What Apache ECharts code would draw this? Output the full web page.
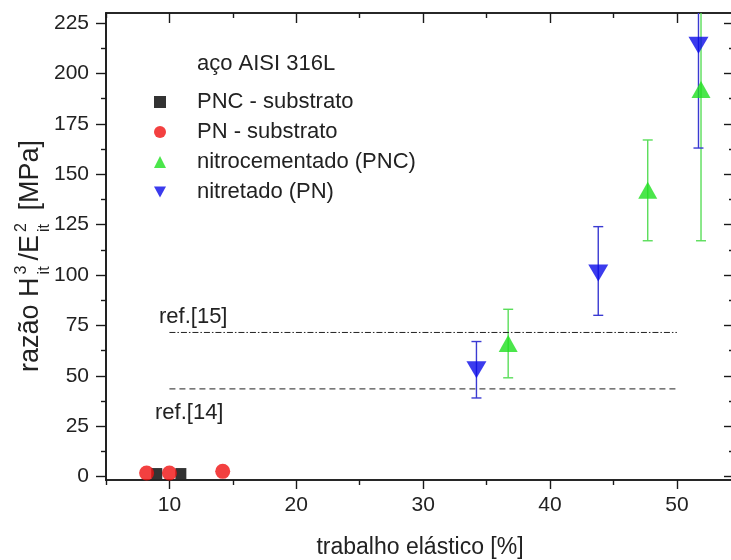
<!DOCTYPE html>
<html>
<head>
<meta charset="utf-8">
<script src="https://cdn.jsdelivr.net/npm/echarts@6/dist/echarts.min.js"></script>
<style>
    html, body { margin: 0; padding: 0; background: #fff; }
    #chart { width: 731px; height: 560px; }
</style>
</head>
<body>
<div id="chart"></div>
<script>
// dados
var pncSubX = [9.0, 10.9];
var pncSubY = [1.5, 1.5];
var pnSubX = [8.2, 10.0, 14.2];
var pnSubY = [1.8, 1.8, 2.6];

var nitrocX = [36.7, 47.7, 51.9];
var nitrocY = [66, 142, 192];
var nitrocLow = [49, 117, 117];
var nitrocHigh = [83, 167, 267];

var nitretX = [34.2, 43.8, 51.7];
var nitretY = [53, 101, 214];
var nitretLow = [39, 80, 163];
var nitretHigh = [67, 124, 265];

var refX = [10, 50];
var ref15 = 71.5;
var ref14 = 43.5;

var xLabels = [10, 20, 30, 40, 50];
var xMinor = [5, 15, 25, 35, 45];
var yLabels = [0, 25, 50, 75, 100, 125, 150, 175, 200, 225];
var yMinor = [12.5, 37.5, 62.5, 87.5, 112.5, 137.5, 162.5, 187.5, 212.5];

var FONT = 'Liberation Sans, Arial, sans-serif';
var AXIS = '#1a1a1a';

function pts(xs, ys) {
    return xs.map(function (x, i) { return [x, ys[i]]; });
}
function errPts(xs, lo, hi) {
    return xs.map(function (x, i) { return [x, lo[i], hi[i]]; });
}

function errorBar(color) {
    return function (params, api) {
        var top = api.coord([api.value(0), api.value(2)]);
        var bot = api.coord([api.value(0), api.value(1)]);
        var w = 5;
        var style = { stroke: color, lineWidth: 1.4 };
        return {
            type: 'group',
            children: [
                { type: 'line', shape: { x1: top[0], y1: top[1], x2: bot[0], y2: bot[1] }, style: style },
                { type: 'line', shape: { x1: top[0] - w, y1: top[1], x2: top[0] + w, y2: top[1] }, style: style },
                { type: 'line', shape: { x1: bot[0] - w, y1: bot[1], x2: bot[0] + w, y2: bot[1] }, style: style }
            ]
        };
    };
}

function xAx(pos, ticks, len, inside, labels) {
    return {
        type: 'value', min: 5, max: 54.5, position: pos,
        splitLine: { show: false },
        axisLine: { show: true, onZero: false, lineStyle: { color: AXIS, width: 1.6 } },
        axisTick: { show: true, customValues: ticks, length: len, inside: inside, lineStyle: { color: AXIS, width: 1.4 } },
        axisLabel: labels ? { customValues: labels, fontSize: 21, fontFamily: FONT, color: '#222', margin: 15 } : { show: false }
    };
}
function yAx(pos, ticks, len, inside, labels) {
    return {
        type: 'value', min: -1.7, max: 230, position: pos,
        splitLine: { show: false },
        axisLine: { show: true, onZero: false, lineStyle: { color: AXIS, width: 1.6 } },
        axisTick: { show: true, customValues: ticks, length: len, inside: inside, lineStyle: { color: AXIS, width: 1.4 } },
        axisLabel: labels ? { customValues: labels, fontSize: 21, fontFamily: FONT, color: '#222', margin: 17 } : { show: false }
    };
}

var xAxes = [
    xAx('bottom', xLabels, 9, false, xLabels),
    xAx('bottom', xMinor, 5, false, null),
    xAx('top', xLabels, 10, true, null),
    xAx('top', xMinor, 5, true, null)
];
xAxes[0].name = 'trabalho elástico [%]';
xAxes[0].nameLocation = 'middle';
xAxes[0].nameGap = 56;
xAxes[0].nameTextStyle = { fontSize: 23, fontFamily: FONT, color: '#222' };

var yAxes = [
    yAx('left', yLabels, 10, false, yLabels),
    yAx('left', yMinor, 5, false, null),
    yAx('right', yLabels, 10, true, null),
    yAx('right', yMinor, 5, true, null)
];

// título do eixo y com sobrescritos/subscritos empilhados
var ctx = document.createElement('canvas').getContext('2d');
function tw(s, size) {
    ctx.font = size + 'px ' + FONT;
    return ctx.measureText(s).width;
}
var big = 27, small = 16;
var parts = [];
var cx = 0;
function addText(s, size, dy) {
    parts.push({ type: 'text', x: cx, y: dy, style: { text: s, fontSize: size, fontFamily: FONT, fill: '#222', verticalAlign: 'middle' } });
}
function addStack(sup, sub) {
    cx += 3;
    addText(sup, small, -17);
    addText(sub, small, 6);
    cx += Math.max(tw(sup, small), tw(sub, small)) + 5;
}
addText('razão H', big, -8); cx += tw('razão H', big);
addStack('3', 'it');
addText('/E', big, -8); cx += tw('/E', big);
addStack('2', 'it');
addText(' [MPa]', big, -8); cx += tw(' [MPa]', big);
var titleLen = cx;

var legendNames = ['PNC - substrato', 'PN - substrato', 'nitrocementado (PNC)', 'nitretado (PN)'];

var option = {
    animation: false,
    backgroundColor: '#fff',
    grid: { left: 106, top: 13, width: 628, height: 467, outerBoundsMode: 'none' },
    xAxis: xAxes,
    yAxis: yAxes,
    legend: {
        orient: 'vertical',
        left: 149, top: 86,
        itemWidth: 12, itemHeight: 12, itemGap: 8,
        formatter: function (name) { return '{s|}' + name; },
        textStyle: {
            fontSize: 22, fontFamily: FONT, color: '#222',
            rich: { s: { width: 26 } }
        },
        data: legendNames
    },
    graphic: [
        { type: 'text', left: 197, top: 53, style: { text: 'aço AISI 316L', fontSize: 22, fontFamily: FONT, fill: '#222' } },
        { type: 'text', left: 159, top: 306, style: { text: 'ref.[15]', fontSize: 22, fontFamily: FONT, fill: '#222' } },
        { type: 'text', left: 155, top: 402, style: { text: 'ref.[14]', fontSize: 22, fontFamily: FONT, fill: '#222' } },
        { type: 'group', x: 39, y: 256 + titleLen / 2, rotation: Math.PI / 2, children: parts }
    ],
    series: [
        {
            name: 'ref15', type: 'line', silent: true, symbol: 'none',
            data: pts(refX, [ref15, ref15]),
            lineStyle: { color: '#222', width: 1, type: [6, 2, 1.5, 2] }
        },
        {
            name: 'ref14', type: 'line', silent: true, symbol: 'none',
            data: pts(refX, [ref14, ref14]),
            lineStyle: { color: '#222', width: 1, type: [6, 4] }
        },
        {
            name: 'PNC - substrato', type: 'scatter', symbol: 'rect', symbolSize: 11,
            itemStyle: { color: '#000' },
            data: pts(pncSubX, pncSubY)
        },
        {
            name: 'PN - substrato', type: 'scatter', symbol: 'circle', symbolSize: 15,
            itemStyle: { color: '#f01010' },
            data: pts(pnSubX, pnSubY)
        },
        {
            type: 'custom', clip: true, silent: true,
            renderItem: errorBar('#5ade5a'),
            data: errPts(nitrocX, nitrocLow, nitrocHigh)
        },
        {
            name: 'nitrocementado (PNC)', type: 'scatter', symbol: 'triangle', symbolSize: [19, 17],
            itemStyle: { color: '#1ee01e' },
            data: pts(nitrocX, nitrocY)
        },
        {
            type: 'custom', clip: true, silent: true,
            renderItem: errorBar('#3a3ad2'),
            data: errPts(nitretX, nitretLow, nitretHigh)
        },
        {
            name: 'nitretado (PN)', type: 'scatter', symbol: 'path://M0,0 L2,0 L1,1.8 Z', symbolSize: [20, 17],
            itemStyle: { color: '#0a0ae8' },
            data: pts(nitretX, nitretY)
        }
    ]
};

var chart = echarts.init(document.getElementById('chart'));
chart.setOption(option);
</script>
</body>
</html>
